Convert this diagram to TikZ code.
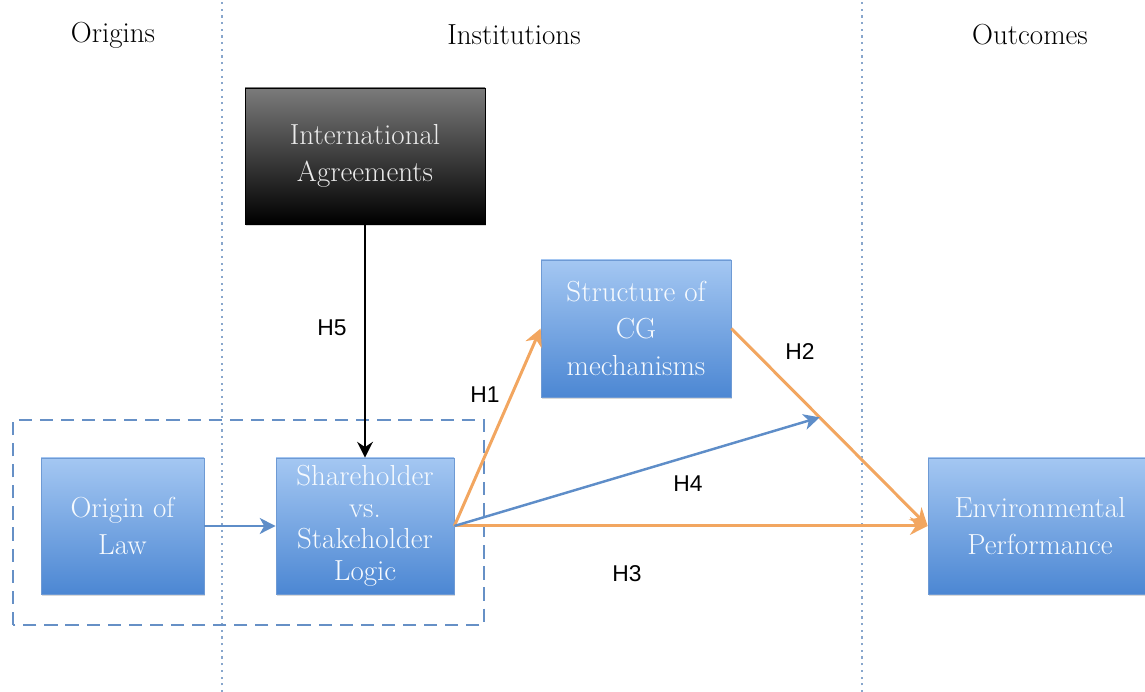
\documentclass[tikz,border=0pt]{standalone}
\usepackage{fontspec}
\newfontfamily\hypfont{Liberation Sans}
\usetikzlibrary{arrows.meta,calc,shadows}

\definecolor{boxtop}{HTML}{A4C7F2}
\definecolor{boxbot}{HTML}{4C87D3}
\definecolor{boxline}{HTML}{6E9AD4}
\definecolor{boxtext}{HTML}{F6FAFE}
\definecolor{hyporange}{HTML}{F2A660}
\definecolor{hypblue}{HTML}{5E8DC8}
\definecolor{dashblue}{HTML}{6690C6}
\definecolor{dotblue}{HTML}{88A6CC}

\begin{document}
\begin{tikzpicture}[
    box/.style={rectangle, draw=boxline, line width=0.4pt, top color=boxtop, bottom color=boxbot,
        text=boxtext, align=center, font=\fontsize{16.5}{21}\selectfont, inner sep=2pt,
        drop shadow={shadow xshift=0.8pt, shadow yshift=-1.4pt, opacity=0.3}},
    blackbox/.style={box, draw=black, top color=black!52, bottom color=black, text=white!92!black},
    header/.style={font=\fontsize{16.5}{20}\selectfont},
    hyp/.style={font=\hypfont\fontsize{13}{15}\selectfont},
    orarr/.style={draw=hyporange, line width=1.7pt, -{Stealth[length=10pt,width=10pt]}},
    bluearr/.style={draw=hypblue, line width=1.4pt, -{Stealth[length=9pt,width=9pt,inset=2.5pt]}},
    blkarr/.style={draw=black, line width=1.2pt, -{Stealth[length=9pt,width=9pt,inset=3pt]}}
]
    \useasboundingbox (0,0) rectangle (22.9,13.84);

    % Column separators and headers
    \draw[dotblue, line width=1pt, dash pattern=on 1.2pt off 2.6pt] (4.44,0) -- (4.44,13.84);
    \draw[dotblue, line width=1pt, dash pattern=on 1.2pt off 2.6pt] (17.24,0) -- (17.24,13.84);
    \node[header] (origins) at (2.26,13.14) {Origins};
    \node[header] (institutions) at (10.28,13.14) {Institutions};
    \node[header] (outcomes) at (20.6,13.14) {Outcomes};

    % Dashed frame round the legal logic
    \draw[dashblue, line width=1.5pt, dash pattern=on 7.5pt off 4.5pt] (0.26,1.34) rectangle (9.68,5.44);

    % Boxes
    \node[blackbox, minimum width=4.8cm, minimum height=2.72cm] (ia) at (7.3,10.72) {International\\Agreements};
    \node[box, minimum width=3.8cm, minimum height=2.74cm] (cg) at (12.72,7.27) {Structure of\\CG\\mechanisms};
    \node[box, minimum width=3.26cm, minimum height=2.72cm] (ol) at (2.45,3.32) {Origin of\\Law};
    \node[box, minimum width=3.56cm, minimum height=2.72cm, font=\fontsize{16.5}{18}\selectfont] (ss) at (7.3,3.32) {Shareholder\\vs.\\Stakeholder\\Logic};
    \node[box, minimum width=4.48cm, minimum height=2.72cm] (ep) at (20.8,3.32) {Environmental\\Performance};

    % Hypotheses
    \coordinate (h4end) at ($(cg.east)!0.45!(ep.west)$);
    \draw[blkarr] (ia) -- (ss);
    \draw[bluearr] (ol) -- (ss);
    \draw[orarr] (ss.east) -- (cg.west);
    \draw[orarr] (cg.east) -- (ep.west);
    \draw[orarr] (ss.east) -- (ep.west);
    \draw[bluearr] (ss.east) -- (h4end);

    \node[hyp] (h5) at (6.64,7.28) {H5};
    \node[hyp] (h1) at (9.7,5.94) {H1};
    \node[hyp] (h2) at (16.0,6.8) {H2};
    \node[hyp] (h4) at (13.76,4.16) {H4};
    \node[hyp] (h3) at (12.54,2.36) {H3};
\end{tikzpicture}
\end{document}
